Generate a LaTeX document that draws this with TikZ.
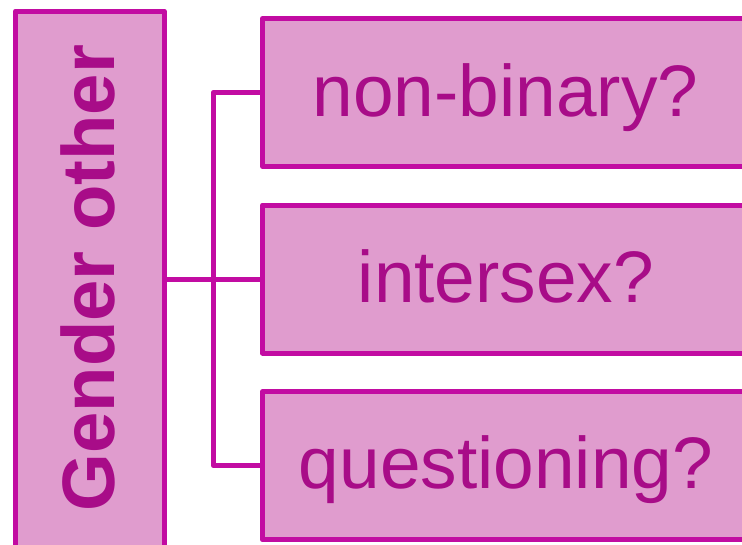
\documentclass[tikz,border=0pt]{standalone}
\usepackage{fontspec}
\setmainfont{Liberation Sans}
\definecolor{edgecol}{HTML}{C20CA2}
\definecolor{boxfill}{HTML}{E09CCE}
\definecolor{inkcol}{HTML}{A80C88}
\begin{document}
\begin{tikzpicture}[x=1pt,y=-1pt,
  boxstyle/.style={draw=edgecol, fill=boxfill, line width=5pt, line join=round,
    rectangle, inner sep=0pt, outer sep=0pt},
  leftbox/.style={boxstyle, minimum width=148.5pt, minimum height=536pt},
  rightbox/.style={boxstyle, minimum width=489.5pt, minimum height=148pt},
  lbl/.style={text=inkcol, font=\fontsize{73}{73}\selectfont, anchor=base, inner sep=0pt},
  conn/.style={draw=edgecol, line width=5pt, line join=round, line cap=butt}]
\useasboundingbox (0,0) rectangle (742,544);
\fill[white] (0,0) rectangle (742,544);
\clip (0,0) rectangle (742,544);
\node[leftbox] (gender) at (89.75,279) {};
\node[rightbox] (nb) at (507.25,92.5) {};
\node[rightbox] (ix) at (507.25,279) {};
\node[rightbox] (qu) at (507.25,465.75) {};
\node[lbl, rotate=90, font=\fontsize{74.3}{74.3}\selectfont\bfseries] (gtxt) at (114,278) {Gender other};
\node[lbl] (nbtxt) at (505.5,116) {non-binary?};
\node[lbl] (ixtxt) at (506,302) {intersex?};
\node[lbl] (qutxt) at (506,488) {questioning?};
\coordinate (jn) at (213.3,279);
\draw[conn] (gender.east) -- (ix.west);
\draw[conn] (nb.west) -- (nb.west -| jn) -- (qu.west -| jn) -- (qu.west);
\end{tikzpicture}
\end{document}
